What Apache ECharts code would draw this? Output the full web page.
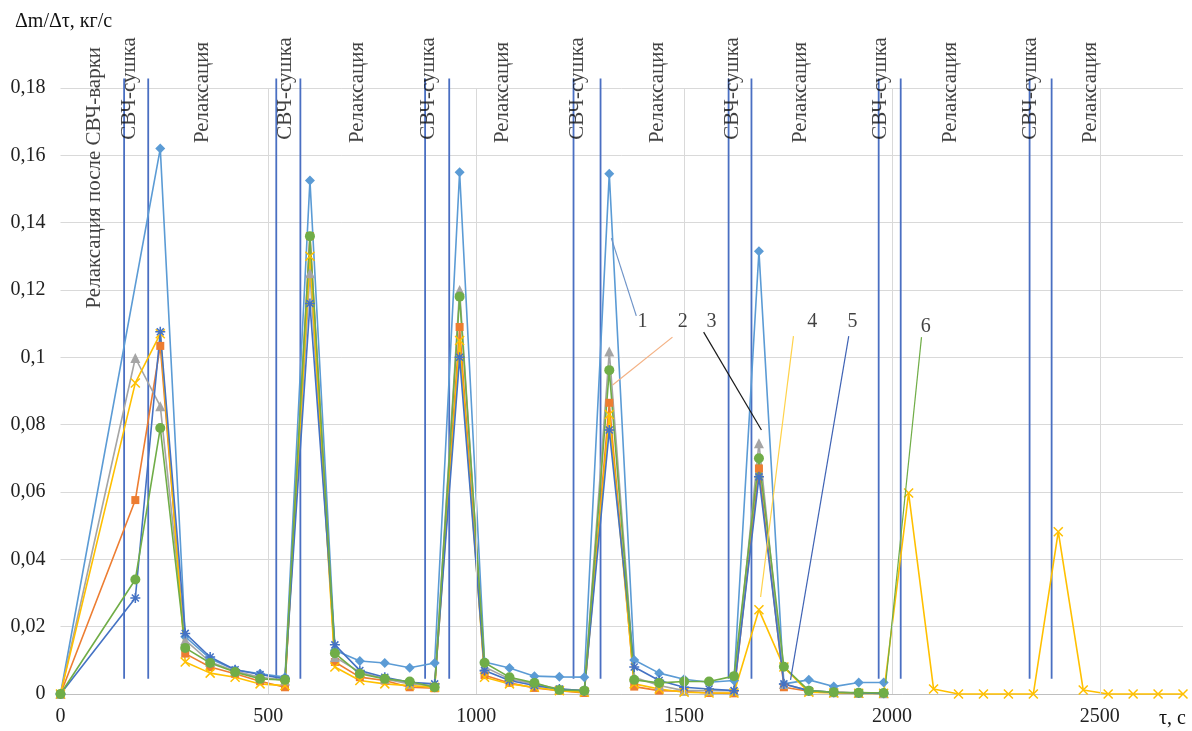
<!DOCTYPE html>
<html><head><meta charset="utf-8">
<script src="https://cdn.jsdelivr.net/npm/echarts@6/dist/echarts.min.js"></script>
<style>html,body{margin:0;padding:0;background:#fff}#c{width:1192px;height:731px}</style>
</head><body><div id="c"></div>
<script>
// time, s
const tau = [0,180,240,300,360,420,480,540,600,660,720,780,840,900,960,1020,1080,1140,1200,1260,1320,1380,1440,1500,1560,1620,1680,1740,1800,1860,1920,1980,2040,2100,2160,2220,2280,2340,2400,2460,2520,2580,2640,2700];
// dm/dt, kg/s
const s1 = [0,null,0.162,0.017,0.0105,0.0072,0.006,0.005,0.1525,0.013,0.0098,0.0092,0.0078,0.0092,0.155,0.0095,0.0077,0.0053,0.0051,0.005,0.1545,0.0101,0.0062,0.0044,0.0035,0.004,0.1315,0.003,0.0042,0.0022,0.0034,0.0034];
const s2 = [0,0.0576,0.1034,0.012,0.008,0.006,0.0038,0.002,0.136,0.0095,0.005,0.004,0.002,0.0017,0.109,0.0056,0.0033,0.0018,0.001,0.0003,0.0865,0.0022,0.001,0.0008,0.0003,0.0002,0.067,0.002,0.0008,0.0005,0.0003,0.0002];
const s3 = [0,0.0998,0.0855,0.016,0.0095,0.0068,0.005,0.004,0.125,0.011,0.0065,0.0045,0.003,0.0025,0.12,0.008,0.0045,0.003,0.0015,0.001,0.1017,0.005,0.0025,0.001,0.001,0.001,0.0745,0.003,0.001,0.0005,0.0003,0.0002];
const s4 = [0,0.0924,0.107,0.0095,0.0062,0.005,0.003,0.0025,0.13,0.008,0.004,0.003,0.0025,0.002,0.105,0.005,0.003,0.002,0.001,0.0005,0.083,0.003,0.0015,0.0005,0.0003,0.0003,0.025,0.008,0.0005,0.0003,0.0002,0.0002,0.0597,0.0015,0,0,0,0,0.0482,0.0012,0,0,0,0];
const s5 = [0,0.0285,0.1076,0.018,0.011,0.0072,0.0058,0.0045,0.116,0.0146,0.007,0.005,0.0035,0.003,0.10,0.007,0.004,0.0025,0.0015,0.001,0.0784,0.008,0.004,0.002,0.0015,0.001,0.0645,0.003,0.001,0.0005,0.0003,0.0002];
const s6 = [0,0.034,0.079,0.0137,0.0092,0.0065,0.0045,0.0042,0.136,0.0121,0.006,0.0045,0.0037,0.002,0.118,0.0093,0.005,0.0033,0.0012,0.001,0.0962,0.0042,0.0033,0.0037,0.0037,0.0053,0.070,0.0081,0.001,0.0005,0.0004,0.0003];
const seriesNames = ['1','2','3','4','5','6'];
const xTicks = [0,500,1000,1500,2000,2500];

// annotations (data coordinates)
const phaseLabels = ['Релаксация после СВЧ-варки','СВЧ-сушка','Релаксация','СВЧ-сушка','Релаксация','СВЧ-сушка','Релаксация','СВЧ-сушка','Релаксация','СВЧ-сушка','Релаксация','СВЧ-сушка','Релаксация','СВЧ-сушка','Релаксация'];
const phaseX = [81,167,341,540,714,885,1063,1243,1436,1616,1780,1973,2141,2334,2478];
const phaseTop = [0.1922,0.1951,0.1937,0.1951,0.1937,0.1951,0.1937,0.1951,0.1937,0.1951,0.1937,0.1951,0.1937,0.1951,0.1937];
const dividers = [153,211,519,577,877,935,1234,1299,1607,1662,1968,2021,2331,2384];
const dividerSpan = [0.0045,0.1828];
const leaderLabelPos = [[1400,0.1105],[1497,0.1105],[1566,0.1105],[1808,0.1105],[1905,0.1105],[2081,0.109]];
const leaderFrom = [[1385,0.1123],[1472,0.106],[1547,0.1075],[1763,0.1063],[1896,0.1063],[2071,0.106]];
const leaderTo = [[1325,0.1354],[1328,0.0918],[1686,0.0784],[1684,0.0288],[1756,0.0042],[1985,0.0033]];
const leaderColors = ['#6f94c8','#f4b183','#1a1a1a','#ffd24a','#3f63b5','#70ad47'];

const FONT = "'Liberation Serif','Times New Roman',serif";
const pair = s => s.map((v,i)=>[tau[i], v]);

const colors = ['#5b9bd5','#ed7d31','#a5a5a5','#ffc000','#4472c4','#70ad47'];
const symbols = ['diamond','rect','triangle','path://M0,0L10,10M10,0L0,10','path://M0,5L10,5M5,0L5,10M1.5,1.5L8.5,8.5M8.5,1.5L1.5,8.5','circle'];
const sizes = [10,8,10,9,10,10];
const allData = [s1,s2,s3,s4,s5,s6];

const dataSeries = allData.map((s,k)=>({
  type:'line', name: seriesNames[k], data: pair(s), connectNulls:true, z:3,
  symbol: symbols[k], symbolSize: sizes[k], showSymbol:true,
  lineStyle:{color: colors[k], width:1.6},
  itemStyle:{color: (k===3||k===4)?'rgba(0,0,0,0)':colors[k], borderColor: colors[k], borderWidth:(k===3||k===4)?1.5:0},
  clip:false
}));

const helper = {
  type:'line', data:[], z:1, silent:true, clip:false,
  markLine:{
    silent:true, symbol:['none','none'], label:{show:false}, animation:false,
    data: [
      ...xTicks.slice(1).map(x=>[{coord:[x,0],lineStyle:{color:'#d9d9d9',width:1,type:'solid'}},{coord:[x,0.18]}]),
      ...leaderFrom.map((p,i)=>[{coord:p,lineStyle:{color:leaderColors[i],width:1.2,type:'solid'}},{coord:leaderTo[i]}])
    ]
  }
};

const dividerSeries = {
  type:'custom', z:2, silent:true, clip:false,
  data: dividers.map(x=>[x, dividerSpan[0], dividerSpan[1]]),
  renderItem:(params, api)=>{
    const a = api.coord([api.value(0), api.value(1)]);
    const b = api.coord([api.value(0), api.value(2)]);
    return {type:'line', shape:{x1:a[0], y1:a[1], x2:b[0], y2:b[1]}, style:{stroke:'#4a6fc2', lineWidth:1.8}};
  }
};

const labelSeries = {
  type:'scatter', z:5, silent:true, clip:false, symbolSize:0,
  data: [
    ...phaseLabels.map((t,i)=>({value:[phaseX[i],phaseTop[i]], name:t,
      label:{show:true, formatter:t, rotate:90, align:'right', verticalAlign:'middle', position:[0,0], fontFamily:FONT, fontSize:21, color:'#111'}})),
    ...leaderLabelPos.map((p,i)=>({value:p, name:seriesNames[i],
      label:{show:true, formatter:seriesNames[i], align:'center', verticalAlign:'middle', position:[0,0], fontFamily:FONT, fontSize:20, color:'#111'}}))
  ]
};

const chart = echarts.init(document.getElementById('c'), null, {renderer:'canvas'});
chart.setOption({
  animation:false,
  backgroundColor:'#fff',
  grid:{left:60.5, right:9, top:88, bottom:37, containLabel:false, outerBoundsMode:'none'},
  xAxis:{type:'value', min:0, max:2700, interval:500,
    axisLine:{show:true, lineStyle:{color:'#bfbfbf', width:1}},
    axisTick:{show:false}, splitLine:{show:false},
    axisLabel:{showMaxLabel:false, margin:13, fontFamily:FONT, fontSize:20, color:'#222', formatter: v => String(v)}},
  yAxis:{type:'value', min:0, max:0.18, interval:0.02,
    axisLine:{show:false}, axisTick:{show:false},
    splitLine:{show:true, lineStyle:{color:'#d9d9d9', width:1}},
    axisLabel:{margin:15, fontFamily:FONT, fontSize:20, color:'#222',
      formatter: v => v===0 ? '0' : String(+v.toFixed(2)).replace('.',',')}},
  graphic:[
    {type:'text', left:15, top:12, style:{text:'Δm/Δτ, кг/с', font:"20px 'Liberation Serif', serif", fill:'#111'}},
    {type:'text', right:6, bottom:2, style:{text:'τ, с', font:"20px 'Liberation Serif', serif", fill:'#111'}}
  ],
  series:[helper, dividerSeries, ...dataSeries, labelSeries]
});
</script></body></html>
